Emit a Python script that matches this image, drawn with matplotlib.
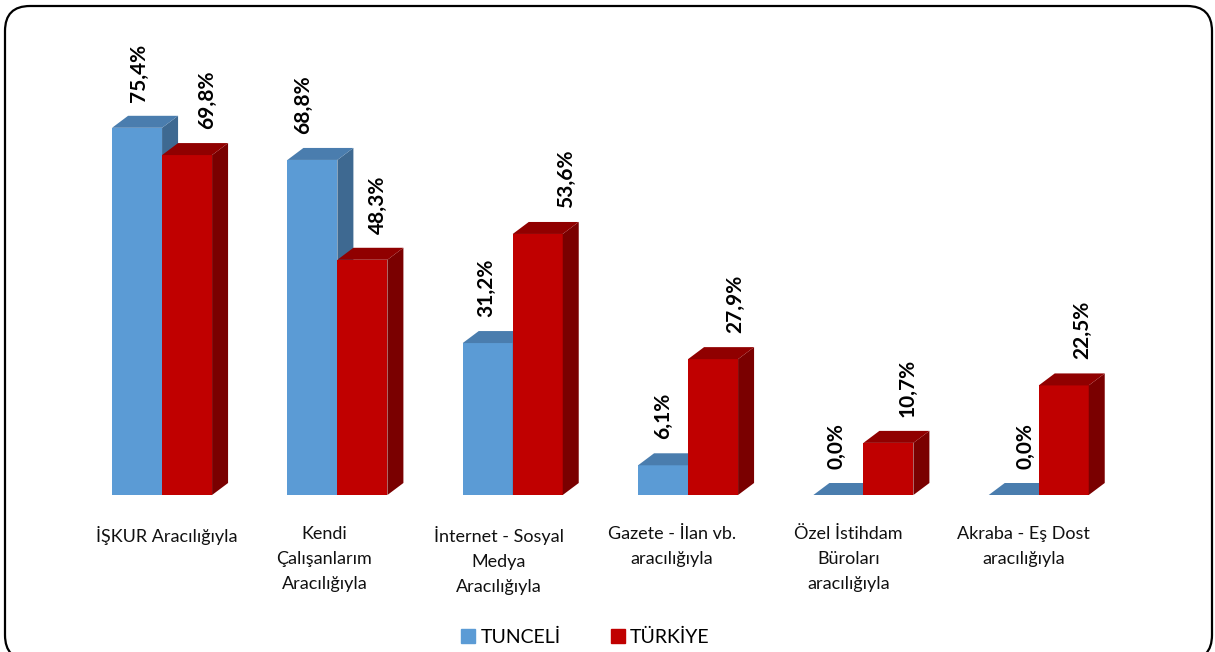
import numpy as np
import matplotlib
matplotlib.use('Agg')
import matplotlib.pyplot as plt
from matplotlib.patches import Polygon, FancyBboxPatch, Rectangle
from matplotlib.transforms import IdentityTransform

categories = ['İŞKUR Aracılığıyla',
              'Kendi\nÇalışanlarım\nAracılığıyla',
              'İnternet - Sosyal\nMedya\nAracılığıyla',
              'Gazete - İlan vb.\naracılığıyla',
              'Özel İstihdam\nBüroları\naracılığıyla',
              'Akraba - Eş Dost\naracılığıyla']
tunceli = [75.4, 68.8, 31.2, 6.1, 0.0, 0.0]
turkiye = [69.8, 48.3, 53.6, 27.9, 10.7, 22.5]
series_names = ['TUNCELİ', 'TÜRKİYE']

# front, top, side
blue = ('#5B9BD5', '#4A7DAE', '#3E6991')
red = ('#C00000', '#900000', '#7A0000')

# label nudges (pixels) to follow the original's placement
blue_off = [2, -9, -2, 0, -2, 12]
red_off = [20, 16, 28, 22, 19, 18]
label_shift = [5, -13, -14, -16, -15, -15]

plt.rcParams['font.family'] = ['Lato', 'DejaVu Sans']

W, H = 1215, 652
fig = plt.figure(figsize=(W / 100, H / 100), dpi=100)
ax = fig.add_axes([74.4 / W, 157 / H, 1052 / W, 487 / H])
ax.set_xlim(-0.5, 5.5)
ax.set_ylim(0, 100)
ax.axis('off')

px_x = 1052 / 6
px_y = 487 / 100
dx = 16 / px_x
dy = 12 / px_y
w = 50 / px_x


def bar3d(x0, v, col, off):
    ax.bar(x0, v, w, align='edge', color=col[0], linewidth=0)
    top = [(x0, v), (x0 + w, v), (x0 + w + dx, v + dy), (x0 + dx, v + dy)]
    side = [(x0 + w, 0), (x0 + w + dx, dy), (x0 + w + dx, v + dy), (x0 + w, v)]
    ax.add_patch(Polygon(side, closed=True, facecolor=col[2], linewidth=0))
    ax.add_patch(Polygon(top, closed=True, facecolor=col[1], linewidth=0))
    ax.text(x0 + w / 2 + off / px_x, v + dy + 14 / px_y, f'{v:.1f}%'.replace('.', ','),
            rotation=90, ha='center', va='bottom', fontsize=15,
            fontweight='bold', color='black', clip_on=False)


x = np.arange(len(categories))
for i in x:
    bar3d(i - w, tunceli[i], blue, blue_off[i])
    bar3d(i, turkiye[i], red, red_off[i])

for i, lab in enumerate(categories):
    ax.text(i + label_shift[i] / px_x, -31 / px_y, lab, ha='center', va='top',
            fontsize=13, linespacing=1.7, color='#111111', clip_on=False)

handles = [Rectangle((0, 0), 1, 1, color=blue[0]), Rectangle((0, 0), 1, 1, color=red[0])]
fig.legend(handles, series_names, loc='center', bbox_to_anchor=(585.5 / W, 1 - 637 / H),
           ncol=2, frameon=False, fontsize=14, handlelength=0.72, handleheight=0.72,
           columnspacing=2.6, handletextpad=0.25, borderpad=0)

frame = FancyBboxPatch((5, -8), 1207, H - 6 + 8, boxstyle='round,pad=0,rounding_size=25',
                       transform=IdentityTransform(), facecolor='none',
                       edgecolor='black', linewidth=1.6)
fig.add_artist(frame)

fig.savefig('out.png', dpi=100)
